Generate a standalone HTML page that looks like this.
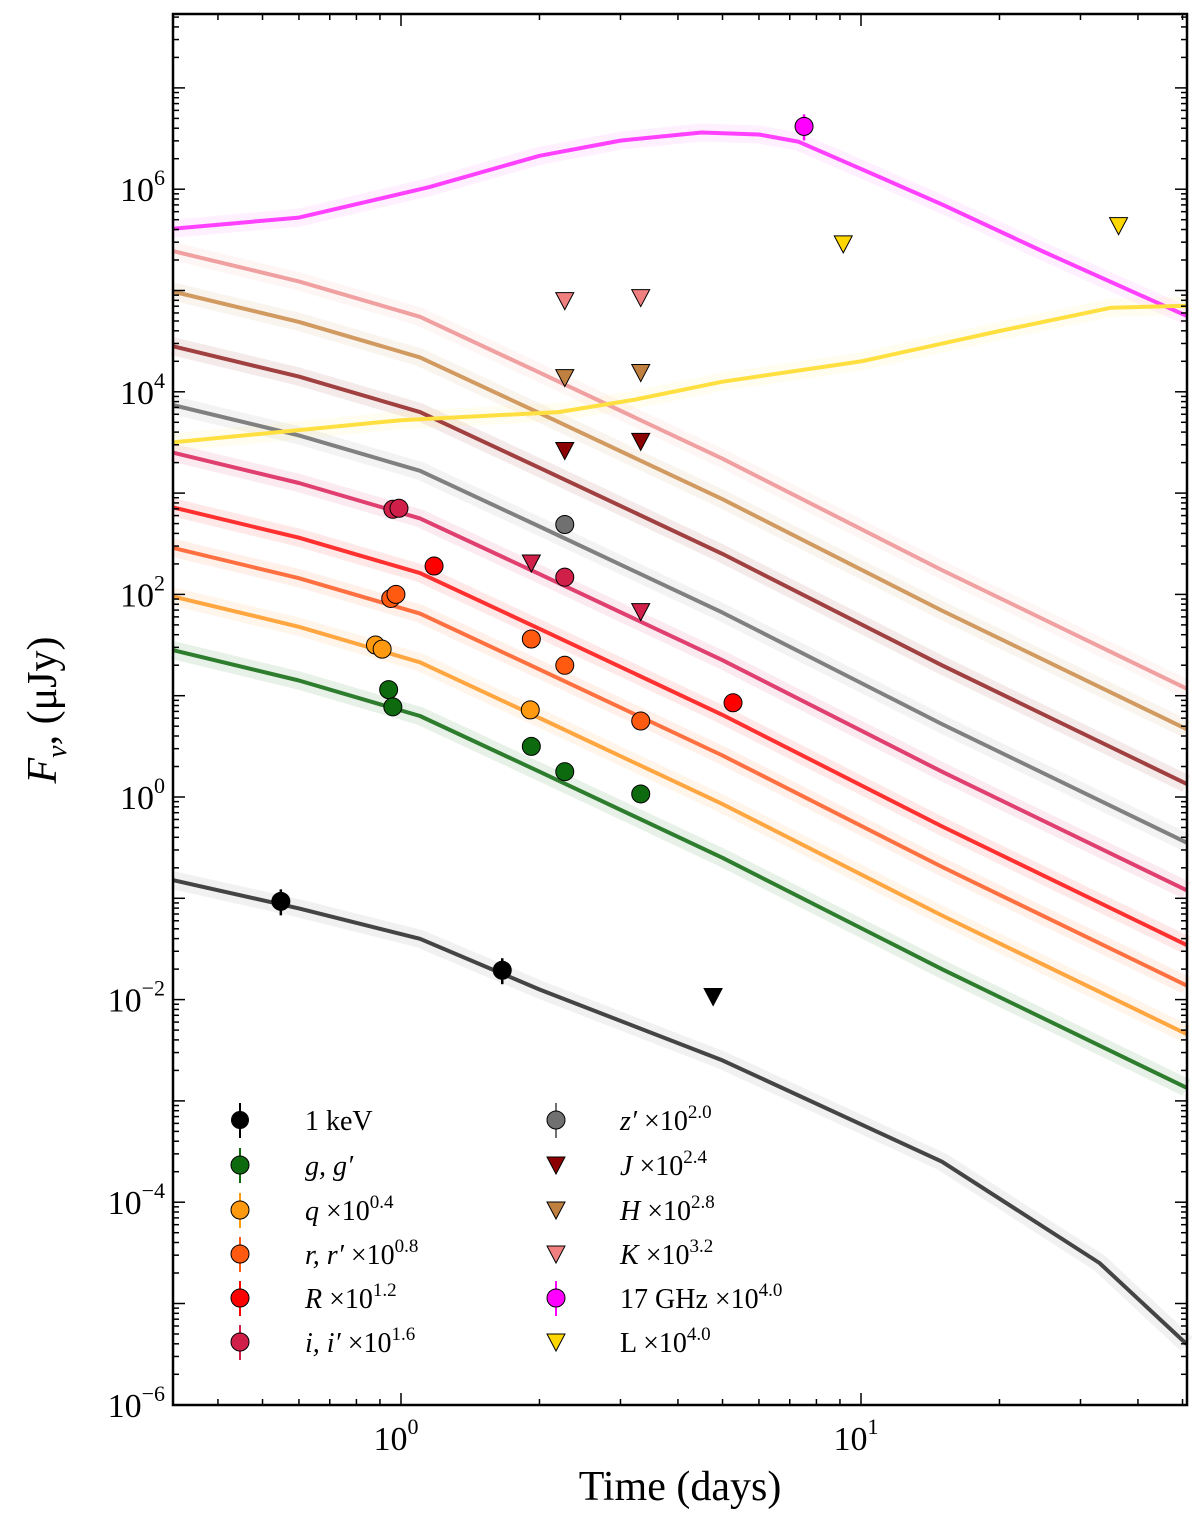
<!DOCTYPE html>
<html><head><meta charset="utf-8"><style>
body{margin:0;background:#fff}
svg text{font-family:"Liberation Serif","DejaVu Serif",serif;fill:#000}
</style></head><body>
<svg id="c" width="1200" height="1519" viewBox="0 0 1200 1519" xmlns="http://www.w3.org/2000/svg">
<g id="bands"></g><g id="lines"></g><g id="pts"></g><g id="axes"></g><g id="legend"></g>
</svg>
<script>
// model grid
const modelTimes=[0.319,0.6,1.1,2,5,15,51];
const gModel=[1.45,1.15,0.8,0.25,-0.6,-1.7,-2.87];
const qModel=[1.98,1.68,1.33,0.78,-0.07,-1.17,-2.34];
const rModel=[2.46,2.16,1.81,1.26,0.41,-0.69,-1.86];
const RModel=[2.86,2.56,2.21,1.66,0.81,-0.29,-1.46];
const iModel=[3.4,3.1,2.75,2.2,1.35,0.25,-0.92];
const zModel=[3.87,3.57,3.22,2.67,1.82,0.72,-0.45];
const JModel=[4.45,4.15,3.8,3.25,2.4,1.3,0.13];
const HModel=[4.99,4.69,4.34,3.79,2.94,1.84,0.67];
const KModel=[5.39,5.09,4.74,4.19,3.34,2.24,1.07];
const xrayTimes=[0.319,0.6,1.1,2,5,15,33,51];
const xrayModel=[-0.82,-1.1,-1.4,-1.9,-2.6,-3.6,-4.6,-5.4];
const radioTimes=[0.319,0.6,1.15,2,3,4.5,6,7.3,10,15,25,51];
const radioModel=[5.61,5.72,6.02,6.33,6.48,6.56,6.54,6.47,6.2,5.85,5.38,4.75];
const lTimes=[0.319,1,2.2,3.2,5,10,20,35,51];
const lModel=[3.5,3.72,3.8,3.92,4.1,4.3,4.6,4.83,4.85];
// observations [time, log10 flux]
const xrayObs=[[0.548,-1.03],[1.66,-1.71]];
const xrayLim=[[4.77,-1.97]];
const gObs=[[0.94,1.06],[0.96,0.89],[1.92,0.5],[2.27,0.25],[3.32,0.03]];
const qObs=[[0.88,1.5],[0.91,1.46],[1.91,0.86]];
const rObs=[[0.95,1.96],[0.975,2.0],[1.92,1.56],[2.27,1.30],[3.32,0.75]];
const RObs=[[1.18,2.28],[5.27,0.93]];
const iObs=[[0.96,2.84],[0.99,2.85],[2.27,2.17]];
const iLim=[[1.92,2.31],[3.32,1.83]];
const zObs=[[2.27,2.69]];
const JLim=[[2.27,3.42],[3.32,3.51]];
const HLim=[[2.27,4.14],[3.32,4.19]];
const KLim=[[2.27,4.9],[3.32,4.93]];
const radioObs=[[7.52,6.62]];
const lLim=[[9.15,5.46],[36.3,5.64]];

const L=173,R=1187,T=14,B=1405;
const X=t=>401+460*Math.log10(t);
const Y=lf=>797-101.3*lf;
const NS="http://www.w3.org/2000/svg";
function mk(tag,a,p){const e=document.createElementNS(NS,tag);for(const k in a)e.setAttribute(k,a[k]);p.appendChild(e);return e;}
const bands=document.getElementById('bands'),lines=document.getElementById('lines'),pts=document.getElementById('pts');
function path(ts,vs){return ts.map((t,i)=>(i?'L':'M')+X(t).toFixed(1)+','+Y(vs[i]).toFixed(1)).join('');}
const series=[
 [xrayTimes,xrayModel,'#444','#888'],[modelTimes,gModel,'#2e7d2e','#3a8f3a'],[modelTimes,qModel,'#ffa640','#ffb050'],
 [modelTimes,rModel,'#ff7040','#ff8050'],[modelTimes,RModel,'#ff3030','#ff4040'],[modelTimes,iModel,'#e04070','#e05080'],
 [modelTimes,zModel,'#808080','#999'],[modelTimes,JModel,'#a04040','#b05050'],[modelTimes,HModel,'#d09a60','#d8a870'],
 [modelTimes,KModel,'#f0a0a0','#f4b0b0'],[radioTimes,radioModel,'#ff40ff','#ff80ff'],[lTimes,lModel,'#ffe040','#fff080']];
series.forEach(s=>{
 const b=mk('path',{d:path(s[0],s[1]),fill:'none',stroke:s[3],'stroke-width':18,'stroke-opacity':0.12,'stroke-linejoin':'round'},bands);
 
 
 const l=mk('path',{d:path(s[0],s[1]),fill:'none',stroke:s[2],'stroke-width':4,'stroke-linejoin':'round'},lines);
 
 
});
function circ(arr,col){arr.forEach(p=>{
 const c=mk('circle',{cx:X(p[0]),cy:Y(p[1]),r:9,fill:col,stroke:'#000','stroke-width':1},pts);
 
 });}
function tri(arr,col){arr.forEach(p=>{const x=X(p[0]),y=Y(p[1]);
 const c=mk('polygon',{points:`${x-9},${y-8} ${x+9},${y-8} ${x},${y+9}`,fill:col,stroke:'#000','stroke-width':1},pts);
 
 });}
xrayObs.forEach(p=>mk('line',{x1:X(p[0]),x2:X(p[0]),y1:Y(p[1])-12,y2:Y(p[1])+14,stroke:'#000','stroke-width':2.5},pts));
radioObs.forEach(p=>mk('line',{x1:X(p[0]),x2:X(p[0]),y1:Y(p[1])-12,y2:Y(p[1])+14,stroke:'#f0f','stroke-width':2.5},pts));
circ(xrayObs,'#000');tri(xrayLim,'#000');circ(gObs,'#0e6a0e');circ(qObs,'#ff9a10');circ(rObs,'#ff5a10');
circ(RObs,'#ff0000');circ(iObs,'#d0204a');tri(iLim,'#d0204a');circ(zObs,'#707070');tri(JLim,'#8b0000');
tri(HLim,'#c08040');tri(KLim,'#f08080');circ(radioObs,'#ff00ff');tri(lLim,'#ffd700');

const ax=document.getElementById('axes');
mk('rect',{x:L,y:T,width:R-L,height:B-T,fill:'none',stroke:'#000','stroke-width':2.5},ax);
for(let e=-6;e<=7;e++){for(let m=1;m<10;m++){const y=Y(e+Math.log10(m));if(y<T||y>B)continue;const len=m==1?12:6;
 mk('line',{x1:L,x2:L+len,y1:y,y2:y,stroke:'#000','stroke-width':1.5},ax);mk('line',{x1:R,x2:R-len,y1:y,y2:y,stroke:'#000','stroke-width':1.5},ax);}
 if(e%2==0&&e<=6){const t=mk('text',{x:L-8,y:Y(e)+12,'text-anchor':'end','font-size':34},ax);t.innerHTML='10<tspan font-size="22" dy="-16">'+(e<0?'−'+(-e):e)+'</tspan>';
 }}
for(let e=-1;e<=1;e++){for(let m=1;m<10;m++){const x=X(m*Math.pow(10,e));if(x<L||x>R)continue;const len=m==1?12:6;
 mk('line',{x1:x,x2:x,y1:B,y2:B-len,stroke:'#000','stroke-width':1.5},ax);mk('line',{x1:x,x2:x,y1:T,y2:T+len,stroke:'#000','stroke-width':1.5},ax);}}
[0,1].forEach(e=>{const t=mk('text',{x:X(Math.pow(10,e))-5,y:1450,'text-anchor':'middle','font-size':34},ax);t.innerHTML='10<tspan font-size="22" dy="-16">'+e+'</tspan>';
 });
</script>
<svg style="position:absolute;left:0;top:0" width="1200" height="1519">
<text x="680" y="1500" text-anchor="middle" font-size="42">Time (days)</text>
<text transform="translate(56,710) rotate(-90)" text-anchor="middle" font-size="42"><tspan font-style="italic">F</tspan><tspan font-style="italic" font-size="28" dy="10">ν</tspan><tspan dy="-10">, (μJy)</tspan></text>
<g font-size="28">
<g>
<line x1="240" x2="240" y1="1103" y2="1138" stroke="#000" stroke-width="2"/><circle cx="240" cy="1120" r="9" fill="#000"/><text x="305" y="1130">1 keV</text>
<line x1="240" x2="240" y1="1148" y2="1183" stroke="#0e6a0e" stroke-width="2"/><circle cx="240" cy="1165" r="9" fill="#0e6a0e" stroke="#000"/><text x="305" y="1175" font-style="italic">g, g′</text>
<line x1="240" x2="240" y1="1193" y2="1228" stroke="#ff9a10" stroke-width="2"/><circle cx="240" cy="1210" r="9" fill="#ff9a10" stroke="#000"/><text x="305" y="1220"><tspan font-style="italic">q</tspan> ×10<tspan font-size="19" dy="-12">0.4</tspan></text>
<line x1="240" x2="240" y1="1237" y2="1272" stroke="#ff5a10" stroke-width="2"/><circle cx="240" cy="1254" r="9" fill="#ff5a10" stroke="#000"/><text x="305" y="1264"><tspan font-style="italic">r, r′</tspan> ×10<tspan font-size="19" dy="-12">0.8</tspan></text>
<line x1="240" x2="240" y1="1281" y2="1316" stroke="#f00" stroke-width="2"/><circle cx="240" cy="1298" r="9" fill="#f00" stroke="#000"/><text x="305" y="1308"><tspan font-style="italic">R</tspan> ×10<tspan font-size="19" dy="-12">1.2</tspan></text>
<line x1="240" x2="240" y1="1325" y2="1360" stroke="#d0204a" stroke-width="2"/><circle cx="240" cy="1342" r="9" fill="#d0204a" stroke="#000"/><text x="305" y="1352"><tspan font-style="italic">i, i′</tspan> ×10<tspan font-size="19" dy="-12">1.6</tspan></text>
</g>
<g>
<line x1="556" x2="556" y1="1103" y2="1138" stroke="#707070" stroke-width="2"/><circle cx="556" cy="1120" r="9" fill="#707070" stroke="#000"/><text x="620" y="1130"><tspan font-style="italic">z′</tspan> ×10<tspan font-size="19" dy="-12">2.0</tspan></text>
<polygon points="547,1157 565,1157 556,1174" fill="#8b0000" stroke="#000"/><text x="620" y="1175"><tspan font-style="italic">J</tspan> ×10<tspan font-size="19" dy="-12">2.4</tspan></text>
<polygon points="547,1202 565,1202 556,1219" fill="#c08040" stroke="#000"/><text x="620" y="1220"><tspan font-style="italic">H</tspan> ×10<tspan font-size="19" dy="-12">2.8</tspan></text>
<polygon points="547,1246 565,1246 556,1263" fill="#f08080" stroke="#000"/><text x="620" y="1264"><tspan font-style="italic">K</tspan> ×10<tspan font-size="19" dy="-12">3.2</tspan></text>
<line x1="556" x2="556" y1="1281" y2="1316" stroke="#f0f" stroke-width="2"/><circle cx="556" cy="1298" r="9" fill="#f0f" stroke="#000"/><text x="620" y="1308">17 GHz ×10<tspan font-size="19" dy="-12">4.0</tspan></text>
<polygon points="547,1334 565,1334 556,1351" fill="#ffd700" stroke="#000"/><text x="620" y="1352">L ×10<tspan font-size="19" dy="-12">4.0</tspan></text>
</g></g>
</svg>
</body></html>
